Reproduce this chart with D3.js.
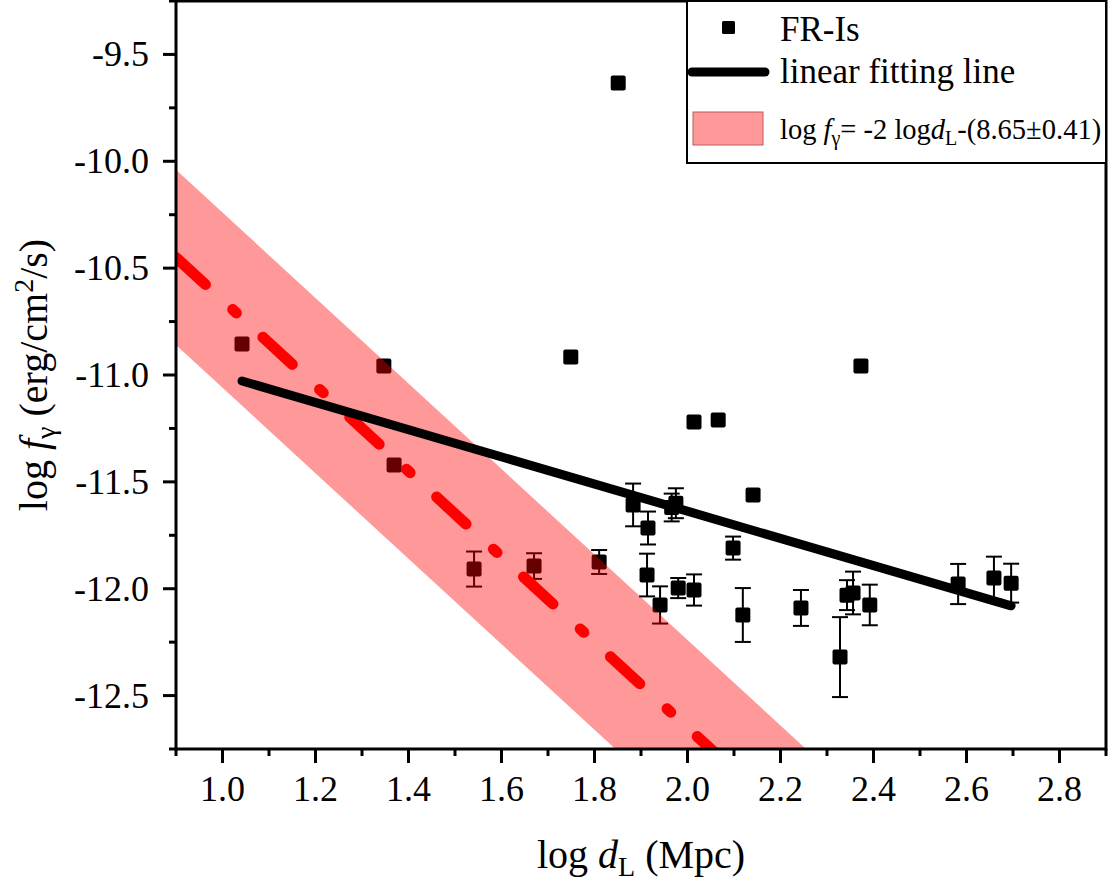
<!DOCTYPE html>
<html><head><meta charset="utf-8">
<script src="https://cdn.jsdelivr.net/npm/d3@7"></script>
<style>
body{margin:0;background:#fff;}
svg text{font-family:"Liberation Serif",serif;fill:#000;}
</style></head>
<body><svg id="c" width="1110" height="886" font-family="Liberation Serif, serif"></svg>
<script>
// ---- data ----
const logDL = [1.042, 1.347, 1.369, 1.541, 1.670, 1.810, 1.851, 1.749, 1.883, 1.915, 1.913, 1.941, 1.980, 1.966, 1.975, 2.014, 2.014, 2.066, 2.141, 2.098, 2.119, 2.244, 2.328, 2.343, 2.356, 2.392, 2.373, 2.582, 2.659, 2.696];
const logF  = [-10.855, -10.958, -11.421, -11.908, -11.894, -11.875, -9.634, -10.916, -11.608, -11.716, -11.936, -12.076, -11.997, -11.620, -11.600, -12.006, -11.220, -11.211, -11.562, -11.810, -12.123, -12.090, -12.320, -12.030, -12.020, -12.076, -10.958, -11.978, -11.950, -11.974];
const logFErr = [0, 0, 0, 0.082, 0.06, 0.056, 0, 0, 0.10, 0.077, 0.10, 0.087, 0.047, 0.065, 0.07, 0.073, 0, 0, 0, 0.054, 0.126, 0.084, 0.187, 0.07, 0.10, 0.095, 0, 0.094, 0.10, 0.091];
const fitX = [1.042, 2.696];
const fitY = [-11.028, -12.080];
const bandSlope = -2, bandConst = 8.65, bandErr = 0.41;
const xMajor = [1.0, 1.2, 1.4, 1.6, 1.8, 2.0, 2.2, 2.4, 2.6, 2.8];
const xMinor = [0.9, 1.1, 1.3, 1.5, 1.7, 1.9, 2.1, 2.3, 2.5, 2.7, 2.9];
const yMajor = [-9.5, -10.0, -10.5, -11.0, -11.5, -12.0, -12.5];
const yMinor = [-9.25, -9.75, -10.25, -10.75, -11.25, -11.75, -12.25, -12.75];
const xDomain = [0.9, 2.9], yDomain = [-9.25, -12.75];

// ---- layout ----
const FONT = "Liberation Serif, serif";
const L = 176, R = 1106, T = 1, B = 749;
const svg = d3.select("#c");
const x = d3.scaleLinear().domain(xDomain).range([L, R]);
const y = d3.scaleLinear().domain(yDomain).range([T, B]);

svg.append("defs").append("clipPath").attr("id","clip")
  .append("rect").attr("x",L).attr("y",T).attr("width",R-L).attr("height",B-T);

const plot = svg.append("g").attr("clip-path","url(#clip)");

// points with error bars
const pts = logDL.map((d,i)=>({x:d, y:logF[i], e:logFErr[i]}));
const eb = plot.append("g");
pts.filter(p=>p.e>0).forEach(p=>{
  eb.append("line").attr("x1",x(p.x)).attr("x2",x(p.x)).attr("y1",y(p.y+p.e)).attr("y2",y(p.y-p.e))
    .attr("stroke","#000").attr("stroke-width",2);
  [p.y+p.e, p.y-p.e].forEach(v=>{
    eb.append("line").attr("x1",x(p.x)-8).attr("x2",x(p.x)+8).attr("y1",y(v)).attr("y2",y(v))
      .attr("stroke","#000").attr("stroke-width",2);
  });
});
plot.append("g").selectAll("rect").data(pts).join("rect")
  .attr("x",d=>x(d.x)-7.5).attr("y",d=>y(d.y)-7.5).attr("width",15).attr("height",15)
  .attr("rx",2).attr("fill","#000");

// band
const bx = xDomain;
const upper = bx.map(v=>[x(v), y(bandSlope*v-(bandConst-bandErr))]);
const lower = bx.map(v=>[x(v), y(bandSlope*v-(bandConst+bandErr))]);
plot.append("path").attr("d", d3.line()([...upper, ...lower.reverse()]) + "Z")
  .attr("fill","#ff0000").attr("fill-opacity",0.4);

// red dash-dot center line
plot.append("path").attr("d", d3.line()(bx.map(v=>[x(v), y(bandSlope*v-bandConst)])))
  .attr("stroke","#ff0000").attr("stroke-width",11).attr("stroke-linecap","round")
  .attr("stroke-dasharray","40 37 5 36").attr("fill","none");

// black fit line
plot.append("path").attr("d", d3.line()(fitX.map((v,i)=>[x(v), y(fitY[i])])))
  .attr("stroke","#000").attr("stroke-width",9).attr("stroke-linecap","round").attr("fill","none");

// axes
const ax = svg.append("g");
const axisStyle = g => g.attr("stroke","#000").attr("stroke-width",3);
ax.append("line").attr("x1",L).attr("x2",R).attr("y1",B).attr("y2",B).call(axisStyle);
ax.append("line").attr("x1",L).attr("x2",R).attr("y1",T).attr("y2",T).call(axisStyle);
ax.append("line").attr("x1",L).attr("x2",L).attr("y1",T).attr("y2",B+1.5).call(axisStyle);
ax.append("line").attr("x1",R).attr("x2",R).attr("y1",T-1.5).attr("y2",B+1.5).call(axisStyle);

xMajor.forEach(v=>{
  ax.append("line").attr("x1",x(v)).attr("x2",x(v)).attr("y1",B).attr("y2",B+14).call(axisStyle);
  ax.append("text").attr("x",x(v)).attr("y",801).attr("text-anchor","middle")
    .attr("font-family",FONT).attr("font-size",36).text(v.toFixed(1));
});
xMinor.forEach(v=>{
  ax.append("line").attr("x1",x(v)).attr("x2",x(v)).attr("y1",B).attr("y2",B+7).call(axisStyle);
});
yMajor.forEach(v=>{
  ax.append("line").attr("x1",L-13).attr("x2",L).attr("y1",y(v)).attr("y2",y(v)).call(axisStyle);
  ax.append("text").attr("x",149).attr("y",y(v)+12).attr("text-anchor","end")
    .attr("font-family",FONT).attr("font-size",36).text(v.toFixed(1).replace("\u2212","-"));
});
yMinor.forEach(v=>{
  ax.append("line").attr("x1",L-7).attr("x2",L).attr("y1",y(v)).attr("y2",y(v)).call(axisStyle);
});

// axis titles
const xt = svg.append("text").attr("x",(L+R)/2).attr("y",868).attr("text-anchor","middle")
  .attr("font-family",FONT).attr("font-size",40);
xt.append("tspan").text("log ");
xt.append("tspan").attr("font-style","italic").text("d");
xt.append("tspan").attr("font-size",28).attr("dy",8).text("L");
xt.append("tspan").attr("dy",-8).text(" (Mpc)");

const yt = svg.append("text").attr("transform",`translate(47,${(T+B)/2}) rotate(-90)`)
  .attr("text-anchor","middle").attr("font-family",FONT).attr("font-size",40);
yt.append("tspan").text("log ");
yt.append("tspan").attr("font-style","italic").text("f");
yt.append("tspan").attr("font-size",28).attr("dy",8).text("\u03b3");
yt.append("tspan").attr("dy",-8).text(" (erg/cm");
yt.append("tspan").attr("font-size",28).attr("dy",-14).text("2");
yt.append("tspan").attr("dy",14).text("/s)");

// legend
const lg = svg.append("g").attr("font-family",FONT);
lg.append("rect").attr("x",687).attr("y",T).attr("width",R-687).attr("height",162)
  .attr("fill","#fff").attr("stroke","#000").attr("stroke-width",2);
lg.append("rect").attr("x",722).attr("y",21).attr("width",13).attr("height",13).attr("rx",1.5).attr("fill","#000");
lg.append("text").attr("x",780).attr("y",41).attr("font-size",35).text("FR-Is");
lg.append("line").attr("x1",692).attr("x2",765).attr("y1",72).attr("y2",72)
  .attr("stroke","#000").attr("stroke-width",9).attr("stroke-linecap","round");
lg.append("text").attr("x",780).attr("y",83).attr("font-size",35).text("linear fitting line");
lg.append("rect").attr("x",693).attr("y",112).attr("width",70).attr("height",33)
  .attr("fill","#ff0000").attr("fill-opacity",0.4).attr("stroke","#c05a5a").attr("stroke-width",1);
const t3 = lg.append("text").attr("x",780).attr("y",139).attr("font-size",28.5);
t3.append("tspan").text("log ");
t3.append("tspan").attr("font-style","italic").text("f");
t3.append("tspan").attr("font-size",20).attr("dy",6).text("\u03b3");
t3.append("tspan").attr("dy",-6).text("= -2 log");
t3.append("tspan").attr("font-style","italic").text("d");
t3.append("tspan").attr("font-size",20).attr("dy",6).text("L");
t3.append("tspan").attr("dy",-6).text("-(8.65\u00b10.41)");
</script></body></html>
